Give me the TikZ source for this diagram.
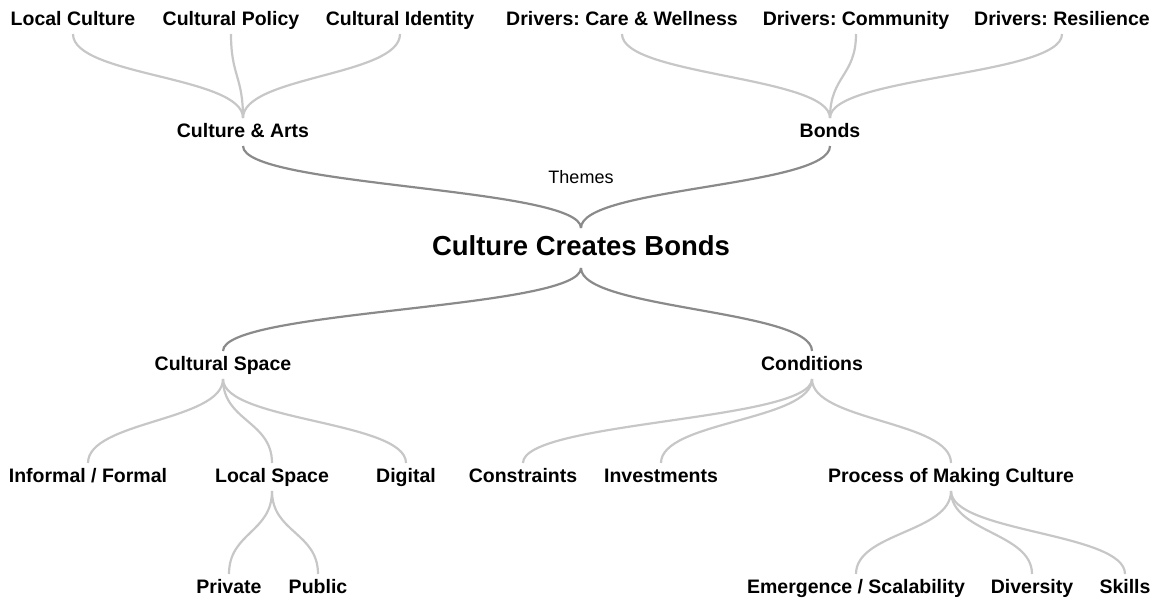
\documentclass[tikz,border=0pt]{standalone}
\usepackage{fontspec}
\setmainfont{Liberation Sans}
\usepackage{tikz}
\usetikzlibrary{calc}
\frenchspacing
\tikzstyle{topic} = [inner sep=0pt, outer ysep=5pt, text height=14pt, text depth=4pt, font=\fontsize{19.5}{23}\selectfont\bfseries]
\tikzstyle{core} = [inner sep=0pt, outer ysep=7pt, text height=20pt, text depth=6pt, font=\fontsize{27.5}{32}\selectfont\bfseries]
\tikzstyle{note} = [inner sep=0pt, font=\fontsize{18}{22}\selectfont]
\tikzstyle{link} = [line width=2.2pt, draw=black!22]
\tikzstyle{mainlink} = [line width=2.2pt, draw=black!46]

\begin{document}
\begin{tikzpicture}[x=1pt,y=-1pt]

	\useasboundingbox (0,0) rectangle (1163,603);

	\node[core] (root) at (581,248) {Culture Creates Bonds};
	\node[note] (themes) at (581,177) {Themes};

	% upper half
	\node[topic] (arts) at (243,132) {Culture \& Arts};
	\node[topic] (bonds) at (830,132) {Bonds};

	\node[topic] (local) at (73,20) {Local Culture};
	\node[topic] (policy) at (231,20) {Cultural Policy};
	\node[topic] (identity) at (400,20) {Cultural Identity};
	\node[topic] (care) at (622,20) {Drivers: Care \& Wellness};
	\node[topic] (community) at (856,20) {Drivers: Community};
	\node[topic] (resilience) at (1062,20) {Drivers: Resilience};

	% lower half
	\node[topic] (space) at (223,365) {Cultural Space};
	\node[topic] (cond) at (812,365) {Conditions};

	\node[topic] (informal) at (88,477) {Informal / Formal};
	\node[topic] (localsp) at (272,477) {Local Space};
	\node[topic] (digital) at (406,477) {Digital};
	\node[topic] (constr) at (523,477) {Constraints};
	\node[topic] (invest) at (661,477) {Investments};
	\node[topic] (process) at (951,477) {Process of Making Culture};

	\node[topic] (private) at (229,588) {Private};
	\node[topic] (public) at (318,588) {Public};
	\node[topic] (emerg) at (856,588) {Emergence / Scalability};
	\node[topic] (divers) at (1032,588) {Diversity};
	\node[topic] (skills) at (1125,588) {Skills};

	\foreach \p/\c in {root.north/arts.south, root.north/bonds.south,
		root.south/space.north, root.south/cond.north}
		\draw[mainlink] (\p) .. controls ($(\p)!0.5!(\p|-\c)$) and ($(\c)!0.5!(\c|-\p)$) .. (\c);

	\foreach \p/\c in {arts.north/local.south, arts.north/policy.south, arts.north/identity.south,
		bonds.north/care.south, bonds.north/community.south, bonds.north/resilience.south,
		space.south/informal.north, space.south/localsp.north, space.south/digital.north,
		localsp.south/private.north, localsp.south/public.north,
		cond.south/constr.north, cond.south/invest.north, cond.south/process.north,
		process.south/emerg.north, process.south/divers.north, process.south/skills.north}
		\draw[link] (\p) .. controls ($(\p)!0.5!(\p|-\c)$) and ($(\c)!0.5!(\c|-\p)$) .. (\c);

\end{tikzpicture}
\end{document}
